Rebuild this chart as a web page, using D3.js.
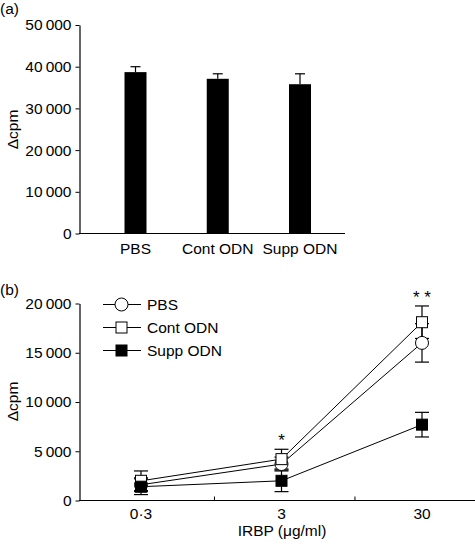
<!DOCTYPE html>
<html><head><meta charset="utf-8">
<script src="https://cdn.jsdelivr.net/npm/d3@7"></script>
<style>
body{margin:0;background:#fff;}
text{font-family:"Liberation Sans",Arial,Helvetica,sans-serif;fill:#000;}
</style></head>
<body><svg id="c" width="475" height="547"></svg>
<script>
// Panel (a) data
const barCategories = ["PBS", "Cont ODN", "Supp ODN"];
const barMeans = [38700, 37100, 35800];
const barErrors = [1300, 1200, 2500];
const barTicks = [0, 10000, 20000, 30000, 40000, 50000];

// Panel (b) data
const doses = [0.3, 3, 30];
const doseLabels = ["0·3", "3", "30"];
const minorDoseTicks = [1, 10];
const seriesNames = ["PBS", "Cont ODN", "Supp ODN"];
const pbsMeans = [1600, 3700, 16000];
const pbsErrors = [700, 700, 1950];
const contMeans = [2000, 4200, 18100];
const contErrors = [1000, 1000, 1650];
const suppMeans = [1400, 2000, 7700];
const suppErrors = [800, 1100, 1250];
const lineTicks = [0, 5000, 10000, 15000, 20000];
const significance = [null, "*", "* *"];

const svg = d3.select("#c");
const fmt = v => v === 0 ? "0" : d3.format(",")(v).replace(/,/g, "\u2009");
const FS = 15.5;

// ---------- Panel (a) ----------
const ga = svg.append("g");
const ya = d3.scaleLinear().domain([0, 50000]).range([233.5, 25]);
const xa = d3.scalePoint().domain(barCategories).range([135.5, 300]);
const barW = 22;

ga.append("text").attr("x", 0).attr("y", 14).attr("font-size", FS).text("(a)");

const yAxA = ga.append("g").attr("transform", "translate(79.5,0)")
  .call(d3.axisLeft(ya).tickValues(barTicks).tickFormat(fmt).tickSize(4).tickSizeOuter(0).tickPadding(4));
yAxA.select(".domain").attr("stroke", "#000").attr("stroke-width", 1.2);
yAxA.selectAll("text").attr("font-size", FS).attr("font-family", "Liberation Sans, Arial, sans-serif");
ga.append("line").attr("x1", 79).attr("x2", 345).attr("y1", ya(0)).attr("y2", ya(0)).attr("stroke", "#000").attr("stroke-width", 1.2);

ga.selectAll("rect.bar").data(barCategories).join("rect")
  .attr("x", d => xa(d) - barW / 2).attr("width", barW)
  .attr("y", (d, i) => ya(barMeans[i])).attr("height", (d, i) => ya(0) - ya(barMeans[i]))
  .attr("fill", "#000");
barCategories.forEach((c, i) => {
  const cx = xa(c), top = ya(barMeans[i] + barErrors[i]);
  ga.append("line").attr("x1", cx).attr("x2", cx).attr("y1", ya(barMeans[i])).attr("y2", top).attr("stroke", "#000").attr("stroke-width", 1.2);
  ga.append("line").attr("x1", cx - 5).attr("x2", cx + 5).attr("y1", top).attr("y2", top).attr("stroke", "#000").attr("stroke-width", 1.2);
  ga.append("text").attr("x", cx).attr("y", 254).attr("text-anchor", "middle").attr("font-size", FS).text(c);
});
ga.append("text").attr("transform", "translate(18,129.5) rotate(-90)").attr("text-anchor", "middle").attr("font-size", FS).text("\u0394cpm");

// ---------- Panel (b) ----------
const gb = svg.append("g");
const yb = d3.scaleLinear().domain([0, 20000]).range([500.5, 303.5]);
const xb = d3.scaleLog().domain([0.3, 30]).range([141, 422]);

gb.append("text").attr("x", 0).attr("y", 295).attr("font-size", FS).text("(b)");

const yAxB = gb.append("g").attr("transform", "translate(79.5,0)")
  .call(d3.axisLeft(yb).tickValues(lineTicks).tickFormat(fmt).tickSize(4).tickSizeOuter(0).tickPadding(4));
yAxB.select(".domain").attr("stroke", "#000").attr("stroke-width", 1.2);
yAxB.selectAll("text").attr("font-size", FS).attr("font-family", "Liberation Sans, Arial, sans-serif");
gb.append("line").attr("x1", 79).attr("x2", 475).attr("y1", yb(0)).attr("y2", yb(0)).attr("stroke", "#000").attr("stroke-width", 1.2);
minorDoseTicks.forEach(t => {
  gb.append("line").attr("x1", xb(t)).attr("x2", xb(t)).attr("y1", yb(0)).attr("y2", yb(0) - 4).attr("stroke", "#000");
});
doses.forEach((d, i) => {
  gb.append("text").attr("x", xb(d)).attr("y", 518.5).attr("text-anchor", "middle").attr("font-size", FS).text(doseLabels[i]);
});
gb.append("text").attr("x", 282).attr("y", 536).attr("text-anchor", "middle").attr("font-size", FS).text("IRBP (\u03bcg/ml)");
gb.append("text").attr("transform", "translate(18,401.5) rotate(-90)").attr("text-anchor", "middle").attr("font-size", FS).text("\u0394cpm");

const series = [
  {name: seriesNames[0], means: pbsMeans, errs: pbsErrors, shape: "circle", fill: "#fff"},
  {name: seriesNames[1], means: contMeans, errs: contErrors, shape: "square", fill: "#fff"},
  {name: seriesNames[2], means: suppMeans, errs: suppErrors, shape: "square", fill: "#000"}
];
const line = d3.line().x((d, i) => xb(doses[i])).y(d => yb(d));
function marker(g, s, x, y) {
  if (s.shape === "circle") {
    g.append("circle").attr("cx", x).attr("cy", y).attr("r", 6.5).attr("fill", s.fill).attr("stroke", "#000").attr("stroke-width", 1);
  } else {
    g.append("rect").attr("x", x - 5.5).attr("y", y - 5.5).attr("width", 11).attr("height", 11).attr("fill", s.fill).attr("stroke", "#000").attr("stroke-width", 1);
  }
}
// error bars
series.forEach(s => {
  s.means.forEach((m, i) => {
    const x = xb(doses[i]), t = yb(m + s.errs[i]), b = yb(m - s.errs[i]);
    gb.append("line").attr("x1", x).attr("x2", x).attr("y1", t).attr("y2", b).attr("stroke", "#000").attr("stroke-width", 1.2);
    [t, b].forEach(yy => gb.append("line").attr("x1", x - 7).attr("x2", x + 7).attr("y1", yy).attr("y2", yy).attr("stroke", "#000").attr("stroke-width", 1.2));
  });
});
series.forEach(s => {
  gb.append("path").datum(s.means).attr("d", line).attr("fill", "none").attr("stroke", "#000").attr("stroke-width", 1);
});
series.forEach(s => {
  s.means.forEach((m, i) => marker(gb, s, xb(doses[i]), yb(m)));
});
significance.forEach((s, i) => {
  if (!s) return;
  const top = d3.max(series, se => se.means[i] + se.errs[i]);
  gb.append("text").attr("x", xb(doses[i])).attr("y", yb(top) - 3).attr("text-anchor", "middle").attr("font-size", 17).text(s);
});
// legend
series.forEach((s, i) => {
  const y = 304.5 + i * 23;
  gb.append("line").attr("x1", 103).attr("x2", 141).attr("y1", y).attr("y2", y).attr("stroke", "#000");
  marker(gb, s, 121.5, y);
  gb.append("text").attr("x", 147).attr("y", y + 5.5).attr("font-size", FS).text(s.name);
});
</script></body></html>
